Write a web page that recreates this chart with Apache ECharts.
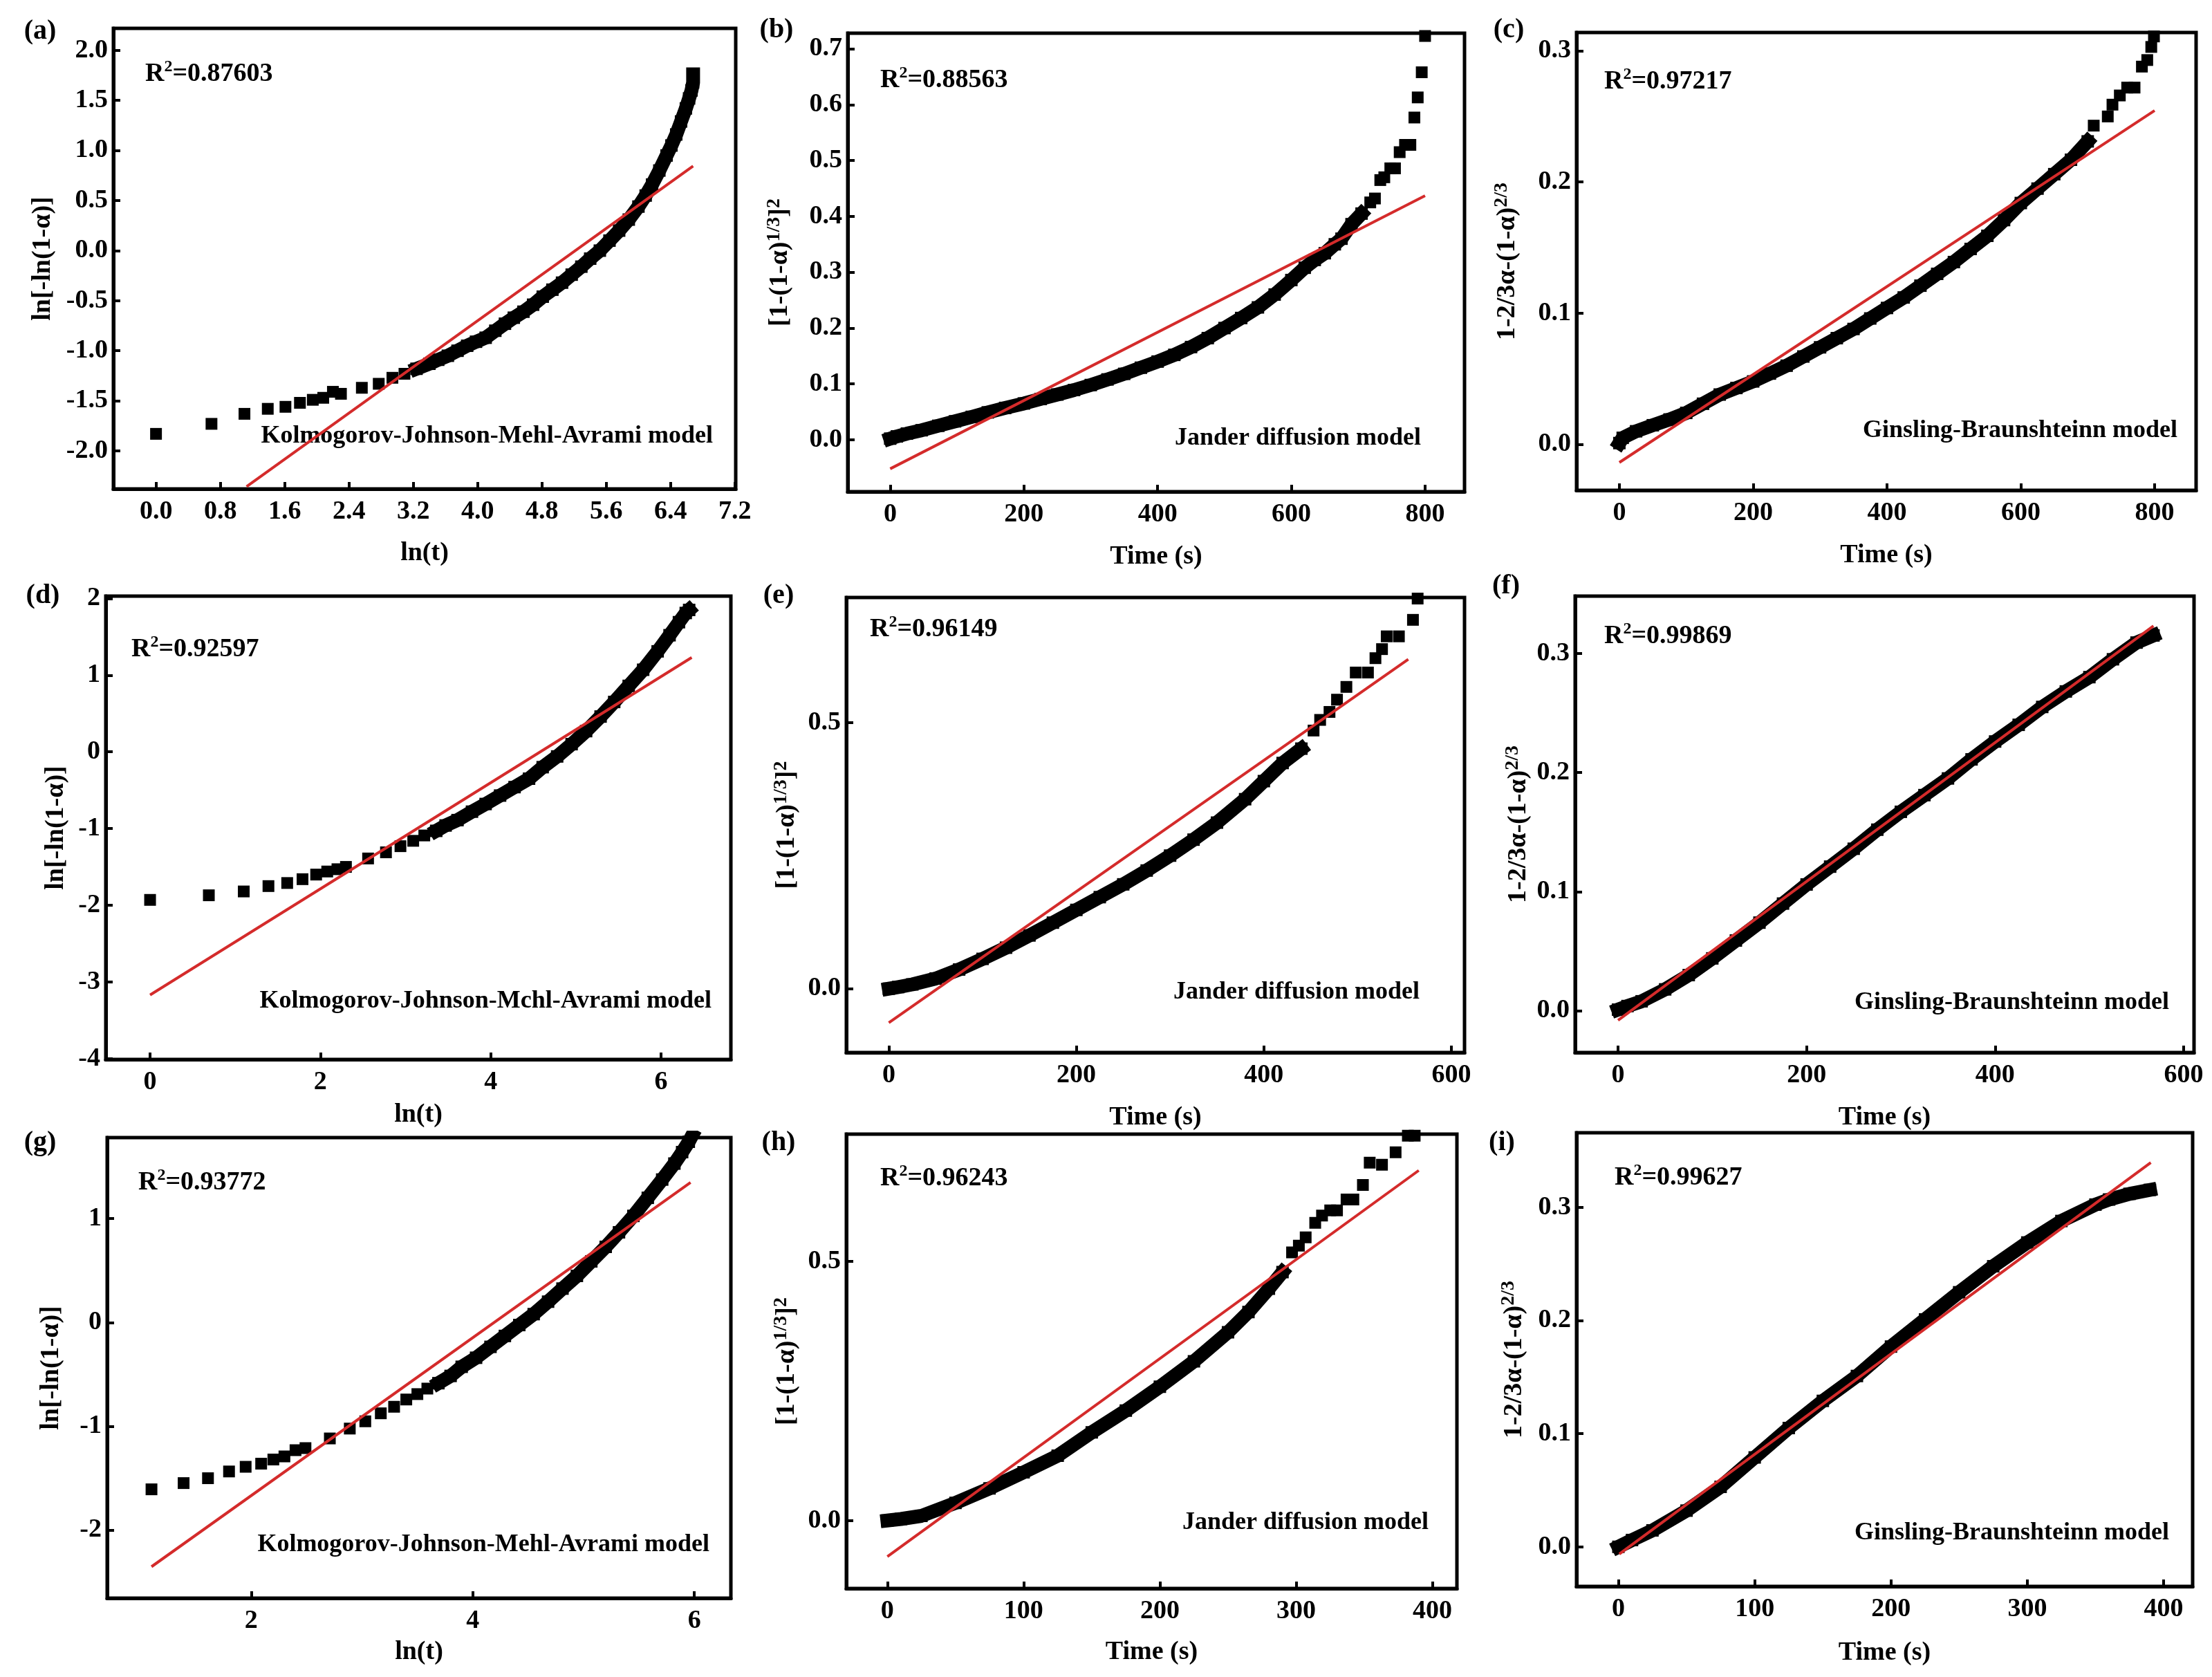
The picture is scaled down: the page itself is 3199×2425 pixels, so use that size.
<!DOCTYPE html>
<html>
<head>
<meta charset="utf-8">
<script src="https://cdn.jsdelivr.net/npm/echarts@6.0.0/dist/echarts.min.js"></script>
<style>
html, body { margin: 0; padding: 0; background: #fff; }
#main { width: 3199px; height: 2425px; }
</style>
</head>
<body>
<div id="main"></div>
<script>
// ---- data: [x, y] ----
// (a) KJMA, ln(t)
var aSparse = [[0.00,-1.83],[0.69,-1.73],[1.10,-1.63],[1.39,-1.58],[1.61,-1.56],[1.79,-1.52],[1.95,-1.49],[2.08,-1.47],[2.20,-1.41],[2.30,-1.43],[2.56,-1.37],[2.77,-1.33],[2.94,-1.27],[3.09,-1.23]];
var aDense = [[3.24,-1.18],[3.40,-1.13],[3.51,-1.09],[3.63,-1.05],[3.75,-1.00],[3.87,-0.95],[3.98,-0.91],[4.10,-0.87],[4.22,-0.80],[4.34,-0.73],[4.45,-0.67],[4.57,-0.61],[4.69,-0.54],[4.81,-0.46],[4.93,-0.39],[5.05,-0.32],[5.17,-0.24],[5.29,-0.16],[5.40,-0.08],[5.52,0.00],[5.64,0.10],[5.76,0.20],[5.88,0.31],[6.00,0.44],[6.09,0.55],[6.17,0.66],[6.26,0.80],[6.35,0.95],[6.41,1.05],[6.47,1.16],[6.53,1.29],[6.59,1.42],[6.63,1.52],[6.66,1.60],[6.68,1.68],[6.68,1.76]];
var aFit = [[1.126,-2.357],[6.68,0.845]];

// (b) Jander, time
var bDense = [[0,0.002],[10,0.006],[25,0.011],[47,0.017],[72,0.025],[97,0.033],[122,0.041],[146,0.049],[172,0.057],[200,0.065],[225,0.073],[250,0.081],[275,0.089],[300,0.098],[325,0.108],[350,0.118],[375,0.129],[400,0.140],[425,0.152],[450,0.166],[475,0.182],[500,0.200],[525,0.218],[550,0.237],[575,0.260],[600,0.286],[620,0.308],[635,0.322],[650,0.334],[665,0.350],[675,0.360],[690,0.386],[705,0.405]];
var bSparse = [[718,0.425],[725,0.432],[733,0.465],[739,0.470],[748,0.486],[755,0.486],[762,0.515],[770,0.528],[778,0.528],[784,0.577],[789,0.613],[795,0.658],[800,0.723]];
var bFit = [[0,-0.052],[800,0.437]];

// (c) Ginsling-Braunshteinn, time
var cDense = [[0,0.001],[5,0.005],[25,0.010],[50,0.0146],[75,0.019],[100,0.024],[125,0.031],[150,0.038],[175,0.043],[200,0.048],[225,0.054],[250,0.060],[275,0.067],[300,0.074],[325,0.081],[350,0.088],[375,0.096],[400,0.104],[425,0.112],[450,0.121],[475,0.130],[500,0.139],[525,0.149],[550,0.159],[575,0.171],[600,0.184],[625,0.195],[650,0.206],[675,0.217],[700,0.231]];
var cSparse = [[709,0.243],[730,0.250],[737,0.259],[748,0.266],[759,0.272],[770,0.272],[781,0.288],[789,0.293],[795,0.303],[799,0.311]];
var cFit = [[0,-0.0138],[800,0.2545]];

// (d) KJMA, ln(t)
var dSparse = [[0,-1.93],[0.69,-1.87],[1.10,-1.82],[1.39,-1.75],[1.61,-1.71],[1.79,-1.66],[1.95,-1.60],[2.08,-1.56],[2.20,-1.53],[2.30,-1.50],[2.56,-1.39],[2.77,-1.31],[2.94,-1.23],[3.09,-1.16],[3.22,-1.09]];
var dDense = [[3.36,-1.03],[3.47,-0.96],[3.61,-0.89],[3.78,-0.78],[3.94,-0.68],[4.11,-0.57],[4.28,-0.46],[4.45,-0.35],[4.61,-0.20],[4.78,-0.06],[4.95,0.10],[5.12,0.27],[5.29,0.46],[5.45,0.65],[5.62,0.86],[5.79,1.07],[5.96,1.31],[6.10,1.52],[6.21,1.69],[6.29,1.81],[6.33,1.85]];
var dFit = [[0,-3.17],[6.36,1.23]];

// (e) Jander, time
var eDense = [[0,0.0],[10,0.003],[25,0.008],[50,0.019],[75,0.036],[100,0.056],[125,0.077],[150,0.100],[175,0.124],[200,0.148],[225,0.172],[250,0.196],[275,0.222],[300,0.250],[325,0.280],[350,0.312],[380,0.356],[400,0.390],[420,0.424],[440,0.451]];
var eSparse = [[453,0.485],[460,0.505],[470,0.520],[478,0.543],[488,0.567],[498,0.594],[511,0.594],[519,0.621],[526,0.638],[531,0.662],[544,0.662],[559,0.693],[564,0.733]];
var eFit = [[0,-0.064],[554,0.619]];

// (f) Ginsling-Braunshteinn, time
var fDense = [[0,0.001],[10,0.004],[25,0.008],[50,0.018],[75,0.030],[100,0.044],[125,0.059],[150,0.074],[175,0.090],[200,0.106],[225,0.121],[250,0.136],[275,0.152],[300,0.167],[325,0.181],[350,0.195],[375,0.211],[400,0.226],[425,0.240],[450,0.255],[475,0.268],[500,0.280],[525,0.295],[550,0.309],[568,0.315]];
var fSparse = [];
var fFit = [[0,-0.008],[568,0.323]];

// (g) KJMA, ln(t)
var gSparse = [[1.10,-1.607],[1.39,-1.547],[1.61,-1.50],[1.80,-1.435],[1.95,-1.39],[2.09,-1.36],[2.20,-1.32],[2.30,-1.29],[2.40,-1.23],[2.49,-1.21],[2.71,-1.117],[2.89,-1.022],[3.03,-0.952],[3.17,-0.875],[3.29,-0.812],[3.40,-0.742],[3.50,-0.69],[3.59,-0.637]];
var gDense = [[3.69,-0.585],[3.80,-0.515],[3.90,-0.427],[4.03,-0.34],[4.16,-0.235],[4.29,-0.13],[4.42,-0.025],[4.55,0.08],[4.68,0.20],[4.81,0.326],[4.94,0.448],[5.07,0.588],[5.20,0.728],[5.32,0.868],[5.45,1.026],[5.58,1.20],[5.71,1.376],[5.82,1.53],[5.89,1.64],[5.95,1.74],[5.98,1.80]];
var gFit = [[1.10,-2.352],[5.966,1.348]];

// (h) Jander, time
var hDense = [[0,0.0],[10,0.003],[25,0.009],[50,0.034],[75,0.062],[100,0.093],[125,0.125],[150,0.170],[175,0.212],[200,0.258],[225,0.307],[250,0.363],[265,0.402],[280,0.447],[290,0.479]];
var hSparse = [[297,0.517],[302,0.530],[307,0.546],[314,0.574],[319,0.588],[325,0.598],[330,0.598],[337,0.619],[342,0.619],[349,0.647],[354,0.690],[363,0.686],[373,0.710],[382,0.742],[387,0.742]];
var hFit = [[0,-0.0694],[390,0.675]];

// (i) Ginsling-Braunshteinn, time
var iDense = [[0,0.0],[10,0.006],[25,0.0145],[50,0.032],[75,0.053],[100,0.079],[125,0.105],[150,0.129],[175,0.151],[200,0.177],[225,0.201],[250,0.225],[275,0.248],[300,0.269],[325,0.288],[350,0.3025],[360,0.307],[375,0.312],[390,0.3155]];
var iSparse = [];
var iFit = [[0.7,-0.0064],[390.6,0.3396]];

// ---- tick labels ----
var xTicksA = [0, 0.8, 1.6, 2.4, 3.2, 4.0, 4.8, 5.6, 6.4, 7.2];
var yTicksA = [-2, -1.5, -1, -0.5, 0, 0.5, 1, 1.5, 2];
var xTicks800 = [0, 200, 400, 600, 800];
var yTicksB = [0, 0.1, 0.2, 0.3, 0.4, 0.5, 0.6, 0.7];
var yTicksC = [0, 0.1, 0.2, 0.3];
var xTicksD = [0, 2, 4, 6];
var yTicksD = [-4, -3, -2, -1, 0, 1, 2];
var xTicks600 = [0, 200, 400, 600];
var yTicksE = [0, 0.5];
var yTicksF = [0, 0.1, 0.2, 0.3];
var xTicksG = [2, 4, 6];
var yTicksG = [-2, -1, 0, 1];
var xTicks400 = [0, 100, 200, 300, 400];
var yTicksH = [0, 0.5];
var yTicksI = [0, 0.1, 0.2, 0.3];

// ---- texts ----
var panelLetters = ['(a)', '(b)', '(c)', '(d)', '(e)', '(f)', '(g)', '(h)', '(i)'];
var r2Values = ['0.87603', '0.88563', '0.97217', '0.92597', '0.96149', '0.99869', '0.93772', '0.96243', '0.99627'];
var modelKJMA = 'Kolmogorov-Johnson-Mehl-Avrami model';
var modelKJMA2 = 'Kolmogorov-Johnson-Mchl-Avrami model';
var modelJander = 'Jander diffusion model';
var modelGB = 'Ginsling-Braunshteinn model';
var yNameKJMA = 'ln[-ln(1-α)]';
var yNameJander = '[1-(1-α){sup|1/3}]{sup|2}';
var yNameGB = '1-2/3α-(1-α){sup|2/3}';
var xNameLn = 'ln(t)';
var xNameTime = 'Time (s)';

var FONT = '"Liberation Serif", "Times New Roman", serif';

// layout of each panel (pixels) and axis extents
var panels = [
  {box: [164, 41, 900, 666],  xr: [-0.53, 7.21], yr: [-2.38, 2.22], xt: xTicksA, yt: yTicksA, xd: 1, yd: 1, xn: xNameLn,   yn: yNameKJMA,   xg: 74, yg: 80, dense: aDense, sparse: aSparse, fit: aFit, model: modelKJMA,  letter: [58, 46],    r2: [210, 107],   mp: [1031, 631]},
  {box: [1226, 48, 892, 663], xr: [-63.5, 859], yr: [-0.093, 0.728], xt: xTicks800, yt: yTicksB, xd: 0, yd: 1, xn: xNameTime, yn: yNameJander, xg: 75, yg: 76, dense: bDense, sparse: bSparse, fit: bFit, model: modelJander, letter: [1123, 44], r2: [1273, 116],  mp: [2055, 634]},
  {box: [2280, 47, 896, 662], xr: [-64, 862], yr: [-0.035, 0.314], xt: xTicks800, yt: yTicksC, xd: 0, yd: 1, xn: xNameTime, yn: yNameGB,     xg: 75, yg: 78, dense: cDense, sparse: cSparse, fit: cFit, model: modelGB,     letter: [2182, 44], r2: [2320, 118],  mp: [3149, 623]},
  {box: [153, 862, 904, 670], xr: [-0.52, 6.82], yr: [-4.01, 2.03], xt: xTicksD, yt: yTicksD, xd: 0, yd: 0, xn: xNameLn,   yn: yNameKJMA,   xg: 61, yg: 50, dense: dDense, sparse: dSparse, fit: dFit, model: modelKJMA2, letter: [62, 862],   r2: [190, 939],   mp: [1029, 1448]},
  {box: [1224, 864, 894, 658], xr: [-45.3, 614], yr: [-0.12, 0.735], xt: xTicks600, yt: yTicksE, xd: 0, yd: 1, xn: xNameTime, yn: yNameJander, xg: 75, yg: 64, dense: eDense, sparse: eSparse, fit: eFit, model: modelJander, letter: [1126, 862], r2: [1258, 910], mp: [2053, 1435]},
  {box: [2278, 862, 895, 660], xr: [-45.5, 611], yr: [-0.035, 0.348], xt: xTicks600, yt: yTicksF, xd: 0, yd: 1, xn: xNameTime, yn: yNameGB,     xg: 75, yg: 60, dense: fDense, sparse: fSparse, fit: fFit, model: modelGB,     letter: [2178, 848], r2: [2320, 920], mp: [3137, 1450]},
  {box: [155, 1645, 902, 666], xr: [0.70, 6.33], yr: [-2.655, 1.78], xt: xTicksG, yt: yTicksG, xd: 0, yd: 0, xn: xNameLn,   yn: yNameKJMA,   xg: 59, yg: 59, dense: gDense, sparse: gSparse, fit: gFit, model: modelKJMA,  letter: [58, 1653],  r2: [200, 1710],  mp: [1026, 2234]},
  {box: [1224, 1640, 883, 657], xr: [-30.1, 418], yr: [-0.131, 0.745], xt: xTicks400, yt: yTicksH, xd: 0, yd: 1, xn: xNameTime, yn: yNameJander, xg: 73, yg: 64, dense: hDense, sparse: hSparse, fit: hFit, model: modelJander, letter: [1126, 1653], r2: [1273, 1704], mp: [2066, 2202]},
  {box: [2280, 1638, 891, 656], xr: [-30.7, 421.3], yr: [-0.035, 0.366], xt: xTicks400, yt: yTicksI, xd: 0, yd: 1, xn: xNameTime, yn: yNameGB,     xg: 77, yg: 68, dense: iDense, sparse: iSparse, fit: iFit, model: modelGB,     letter: [2172, 1653], r2: [2335, 1703], mp: [3137, 2217]}
];

var supStyle = {fontSize: 28, fontWeight: 'bold', fontFamily: FONT, color: '#000', verticalAlign: 'top', lineHeight: 28};

var grids = [], xAxes = [], yAxes = [], series = [], graphics = [];

panels.forEach(function (p, k) {
  grids.push({
    left: p.box[0], top: p.box[1], width: p.box[2], height: p.box[3],
    show: true, borderColor: '#000', borderWidth: 5, backgroundColor: 'transparent'
  });
  var xd = p.xd, yd = p.yd;
  xAxes.push({
    type: 'value', gridIndex: k, min: p.xr[0], max: p.xr[1],
    name: p.xn, nameLocation: 'middle', nameGap: p.xg,
    nameTextStyle: {fontFamily: FONT, fontWeight: 'bold', fontSize: 38, color: '#000'},
    axisLine: {show: true, onZero: false, lineStyle: {color: '#000', width: 5}},
    axisTick: {show: true, inside: true, length: 10, customValues: p.xt, lineStyle: {color: '#000', width: 4}},
    axisLabel: {customValues: p.xt, margin: 14, fontFamily: FONT, fontWeight: 'bold', fontSize: 38, color: '#000',
      formatter: function (v) { return v.toFixed(xd); }},
    splitLine: {show: false}
  });
  yAxes.push({
    type: 'value', gridIndex: k, min: p.yr[0], max: p.yr[1],
    name: p.yn, nameLocation: 'middle', nameGap: p.yg, nameRotate: 90,
    nameTextStyle: {fontFamily: FONT, fontWeight: 'bold', fontSize: 38, color: '#000', lineHeight: 44,
      rich: {sup: supStyle}},
    axisLine: {show: true, onZero: false, lineStyle: {color: '#000', width: 5}},
    axisTick: {show: true, inside: true, length: 10, customValues: p.yt, lineStyle: {color: '#000', width: 4}},
    axisLabel: {customValues: p.yt, margin: 8, fontFamily: FONT, fontWeight: 'bold', fontSize: 38, color: '#000',
      formatter: function (v) { return v.toFixed(yd); }},
    splitLine: {show: false}
  });
  // dense part: squares so close they merge into a band
  series.push({
    type: 'line', xAxisIndex: k, yAxisIndex: k, data: p.dense,
    symbol: 'rect', symbolSize: 18, showSymbol: true,
    itemStyle: {color: '#000', opacity: 1},
    lineStyle: {color: '#000', width: 20, cap: 'square', join: 'round', opacity: 1},
    animation: false, z: 2
  });
  series.push({
    type: 'scatter', xAxisIndex: k, yAxisIndex: k, data: p.sparse,
    symbol: 'rect', symbolSize: 17, itemStyle: {color: '#000', opacity: 1},
    animation: false, z: 2
  });
  series.push({
    type: 'line', xAxisIndex: k, yAxisIndex: k, data: p.fit,
    symbol: 'none', lineStyle: {color: '#d42b2b', width: 4},
    animation: false, z: 5
  });

  graphics.push({
    type: 'text', x: p.letter[0], y: p.letter[1],
    style: {text: panelLetters[k], fontFamily: FONT, fontWeight: 'bold', fontSize: 40, fill: '#000',
      align: 'center', verticalAlign: 'middle'}
  });
  graphics.push({
    type: 'text', x: p.r2[0], y: p.r2[1],
    style: {text: 'R{sup|2}=' + r2Values[k], fontFamily: FONT, fontWeight: 'bold', fontSize: 38, fill: '#000',
      align: 'left', verticalAlign: 'middle', lineHeight: 44,
      rich: {sup: {fontSize: 24, fontWeight: 'bold', fontFamily: FONT, fill: '#000', verticalAlign: 'top', lineHeight: 24}}}
  });
  graphics.push({
    type: 'text', x: p.mp[0], y: p.mp[1],
    style: {text: p.model, fontFamily: FONT, fontWeight: 'bold', fontSize: 36, fill: '#000',
      align: 'right', verticalAlign: 'middle'}
  });
});

var chart = echarts.init(document.getElementById('main'));
chart.setOption({
  backgroundColor: '#fff',
  animation: false,
  grid: grids,
  xAxis: xAxes,
  yAxis: yAxes,
  series: series,
  graphic: graphics
});
</script>
</body>
</html>
